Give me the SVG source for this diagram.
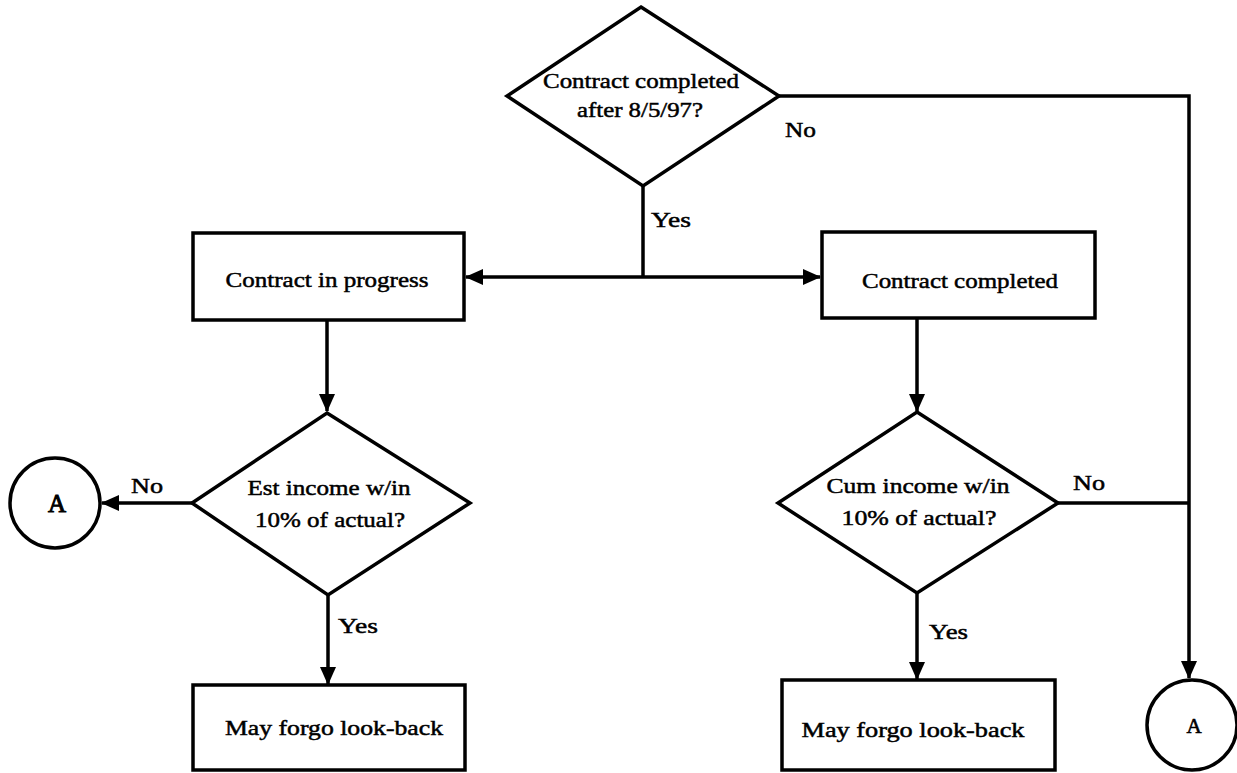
<svg xmlns="http://www.w3.org/2000/svg" width="1237" height="773" viewBox="0 0 1237 773">
<defs>
<marker id="arr" markerUnits="userSpaceOnUse" markerWidth="18" markerHeight="16" viewBox="0 0 18 16" refX="17" refY="8" orient="auto">
<path d="M0,0 L18,8 L0,16 Z" fill="#000"/>
</marker>
<style>
.shape{fill:#fff;stroke:#000;stroke-width:3.5;stroke-linejoin:miter}
.line{fill:none;stroke:#000;stroke-width:3.5}
.t{font-family:"Liberation Serif","Times New Roman",serif;font-size:22px;fill:#000;stroke:#000;stroke-width:0.5}
.c{text-anchor:middle}
</style>
</defs>
<rect width="1237" height="773" fill="#fff"/>
<g id="connectors">
<polyline class="line" points="779,96 1189,96 1189,678" marker-end="url(#arr)"/>
<line class="line" x1="643" y1="186" x2="643" y2="277"/>
<line class="line" x1="643" y1="277" x2="466" y2="277" marker-end="url(#arr)"/>
<line class="line" x1="643" y1="277" x2="820" y2="277" marker-end="url(#arr)"/>
<line class="line" x1="327" y1="320" x2="327" y2="411" marker-end="url(#arr)"/>
<line class="line" x1="917" y1="318" x2="917" y2="411" marker-end="url(#arr)"/>
<line class="line" x1="192" y1="503" x2="102" y2="503" marker-end="url(#arr)"/>
<line class="line" x1="1058" y1="503" x2="1189" y2="503"/>
<line class="line" x1="328" y1="595" x2="328" y2="684" marker-end="url(#arr)"/>
<line class="line" x1="917" y1="593" x2="917" y2="679" marker-end="url(#arr)"/>
<text class="t" x="785" y="137" textLength="31" lengthAdjust="spacingAndGlyphs">No</text>
<text class="t" x="651" y="227" textLength="40" lengthAdjust="spacingAndGlyphs">Yes</text>
<text class="t" x="131" y="493" textLength="32" lengthAdjust="spacingAndGlyphs">No</text>
<text class="t" x="1073" y="490" textLength="32" lengthAdjust="spacingAndGlyphs">No</text>
<text class="t" x="338" y="633" textLength="40" lengthAdjust="spacingAndGlyphs">Yes</text>
<text class="t" x="929" y="639" textLength="39" lengthAdjust="spacingAndGlyphs">Yes</text>
</g>
<g id="q1">
<polygon class="shape" points="641,7 779,96 643,186 507,96"/>
<text class="t c" x="641" y="88" textLength="196" lengthAdjust="spacingAndGlyphs">Contract completed</text>
<text class="t c" x="640" y="117" textLength="126" lengthAdjust="spacingAndGlyphs">after 8/5/97?</text>
</g>
<g id="inprogress">
<rect class="shape" x="193" y="233" width="271" height="87"/>
<text class="t c" x="327" y="287" textLength="203" lengthAdjust="spacingAndGlyphs">Contract in progress</text>
</g>
<g id="completed">
<rect class="shape" x="822" y="232" width="273" height="86"/>
<text class="t c" x="960" y="288" textLength="196" lengthAdjust="spacingAndGlyphs">Contract completed</text>
</g>
<g id="q2">
<polygon class="shape" points="327,413 470,503 328,595 192,503"/>
<text class="t c" x="329" y="495" textLength="163" lengthAdjust="spacingAndGlyphs">Est income w/in</text>
<text class="t c" x="330" y="527" textLength="150" lengthAdjust="spacingAndGlyphs">10% of actual?</text>
</g>
<g id="q3">
<polygon class="shape" points="917,412 1058,503 917,593 778,503"/>
<text class="t c" x="918" y="493" textLength="183" lengthAdjust="spacingAndGlyphs">Cum income w/in</text>
<text class="t c" x="919" y="525" textLength="155" lengthAdjust="spacingAndGlyphs">10% of actual?</text>
</g>
<g id="forgo1">
<rect class="shape" x="193" y="685" width="272" height="85"/>
<text class="t c" x="334" y="735" textLength="218" lengthAdjust="spacingAndGlyphs">May forgo look-back</text>
</g>
<g id="forgo2">
<rect class="shape" x="782" y="680" width="273" height="90"/>
<text class="t c" x="913" y="737" textLength="223" lengthAdjust="spacingAndGlyphs">May forgo look-back</text>
</g>
<g id="connA1">
<circle class="shape" cx="55" cy="503" r="45"/>
<text class="t c" x="57" y="512" style="font-size:25px;stroke-width:1">A</text>
</g>
<g id="connA2">
<circle class="shape" cx="1192" cy="725" r="45"/>
<text class="t c" x="1194" y="733" style="font-size:21px;stroke-width:0.6">A</text>
</g>
</svg>
